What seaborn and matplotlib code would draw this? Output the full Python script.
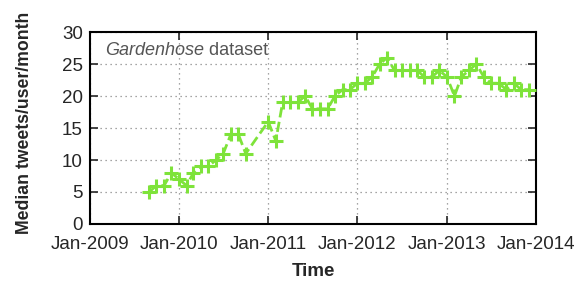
import matplotlib
matplotlib.use("Agg")
import matplotlib.pyplot as plt
import seaborn as sns
import pandas as pd

months = (
    ["2009-09", "2009-10", "2009-11", "2009-12",
     "2010-01", "2010-02", "2010-03", "2010-04", "2010-05", "2010-06",
     "2010-07", "2010-08", "2010-09", "2010-10"]
    + [f"2011-{m:02d}" for m in range(1, 13)]
    + [f"2012-{m:02d}" for m in range(1, 13)]
    + [f"2013-{m:02d}" for m in range(1, 13)]
)
median_tweets = [5, 6, 6, 8, 7, 6, 8, 9, 9, 10, 11, 14, 14, 11,
                 16, 13, 19, 19, 19, 20, 18, 18, 18, 20, 21, 21,
                 22, 22, 23, 25, 26, 24, 24, 24, 24, 23, 23, 24,
                 23, 20, 23, 24, 25, 23, 22, 22, 21, 22, 21, 21]
xtick_dates = ["2009-01-01", "2010-01-01", "2011-01-01", "2012-01-01",
               "2013-01-01", "2014-01-01"]
xtick_labels = ["Jan-2009", "Jan-2010", "Jan-2011", "Jan-2012", "Jan-2013", "Jan-2014"]
yticks = [0, 5, 10, 15, 20, 25, 30]

df = pd.DataFrame({"date": pd.to_datetime(months), "value": median_tweets})

sns.set_style("white")
plt.rcParams["font.family"] = ["Liberation Sans", "DejaVu Sans"]

GREEN = "#7ee33a"
fig = plt.figure(figsize=(5.79, 2.89), dpi=100)
ax = fig.add_axes([0.155, 0.225, 0.771, 0.664])

sns.lineplot(data=df, x="date", y="value", ax=ax, color=GREEN,
             linestyle="--", linewidth=2)
sns.scatterplot(data=df, x="date", y="value", ax=ax, color=GREEN,
                marker="+", s=90, linewidth=2.2, zorder=3)

xt = pd.to_datetime(xtick_dates)
ax.set_xlim(xt[0], xt[-1])
ax.set_xticks(xt)
ax.set_xticklabels(xtick_labels, fontsize=13.5)
ax.set_ylim(0, 30)
ax.set_yticks(yticks)
ax.tick_params(axis="y", labelsize=13.5, pad=5)
ax.tick_params(axis="x", pad=9)
ax.tick_params(direction="in", length=6, width=1.2, top=True, right=True,
               bottom=True, left=True)

ax.grid(True, linestyle=(0, (1, 3)), color="#888888", linewidth=0.9)
for s in ax.spines.values():
    s.set_linewidth(1.5)
    s.set_color("black")

ax.set_xlabel("Time", fontsize=13.5, fontweight="bold", labelpad=7)
ax.set_ylabel("Median tweets/user/month", fontsize=12.7, fontweight="bold")
ax.yaxis.set_label_coords(-0.128, 0.526)

t1 = ax.text(0.035, 0.95, "Gardenhose", transform=ax.transAxes, fontsize=13,
             color="#555555", va="top", ha="left", style="italic")
fig.canvas.draw()
bb = t1.get_window_extent()
x_end = ax.transAxes.inverted().transform((bb.x1, bb.y1))[0]
ax.text(x_end, 0.95, " dataset", transform=ax.transAxes, fontsize=13,
        color="#555555", va="top", ha="left")

fig.savefig("out.png", dpi=100)
